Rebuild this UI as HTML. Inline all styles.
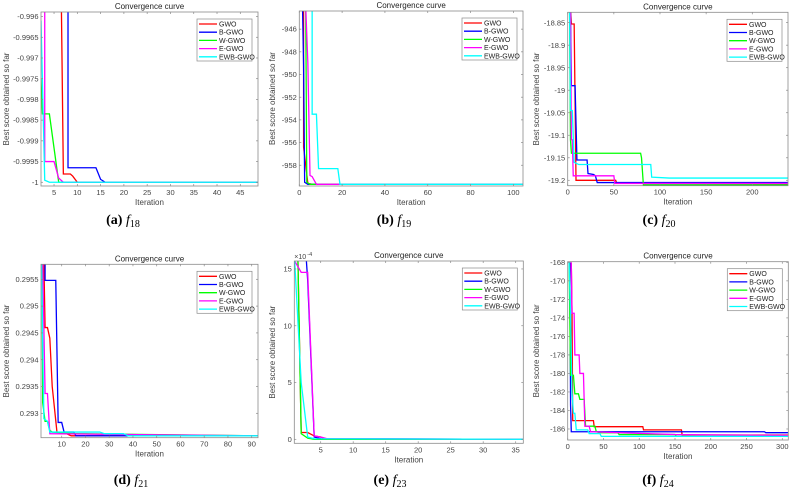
<!DOCTYPE html>
<html><head><meta charset="utf-8"><style>
html,body{margin:0;padding:0;background:#fff;}
svg{display:block;}
text{font-family:"Liberation Sans",Arial,sans-serif;}
.cap{font-family:"Liberation Serif","Times New Roman",serif;font-size:14px;fill:#000;}
</style></head><body>
<svg id="fig" width="796" height="497" viewBox="0 0 796 497" xmlns="http://www.w3.org/2000/svg"></svg>
<script>
// ---------- data ----------
const seriesNames = ["GWO","B-GWO","W-GWO","E-GWO","EWB-GWO"];
// panel a (f18)
const aGWO  = [[6.5,-0.995],[7,-0.9998],[8.5,-0.9998],[9,-0.99985],[10,-1],[49,-1]];
const aBGWO = [[8,-0.995],[8,-0.99965],[14,-0.99965],[15,-0.99993],[16,-1],[49,-1]];
const aWGWO = [[2.2,-0.9975],[2.5,-0.99835],[4,-0.99835],[6,-1],[49,-1]];
const aEGWO = [[3,-0.995],[3,-0.9995],[5,-0.9995],[6,-0.9999],[7,-1],[49,-1]];
const aEWB  = [[2.2,-0.9961],[3,-0.99995],[4,-1],[49,-1]];
const aXTicks = [5,10,15,20,25,30,35,40,45];
const aYTicks = [-0.996,-0.9965,-0.997,-0.9975,-0.998,-0.9985,-0.999,-0.9995,-1];
// panel b (f19)
const bGWO  = [[2,-944],[2,-956.4],[4,-959.6],[6,-959.68],[104.5,-959.68]];
const bBGWO = [[1.5,-944],[2,-949.2],[2.5,-959.5],[4,-959.68],[104.5,-959.68]];
const bWGWO = [[3,-944],[3.5,-959.5],[5,-959.68],[104.5,-959.68]];
const bEGWO = [[3,-944],[4,-949],[5,-958.9],[6,-959],[8,-959.68],[104.5,-959.68]];
const bEWB  = [[6,-944],[6,-953.5],[8,-953.5],[9,-958.3],[18,-958.3],[19,-959.68],[104.5,-959.68]];
const bXTicks = [0,20,40,60,80,100];
const bYTicks = [-946,-948,-950,-952,-954,-956,-958];
// panel c (f20)
const cGWO  = [[3,-18.82],[4,-18.853],[7,-18.853],[9,-19.2],[52,-19.2],[53,-19.206],[238.7,-19.208]];
const cBGWO = [[3,-18.82],[4,-18.99],[8,-18.99],[10,-19.155],[21,-19.155],[22,-19.185],[28,-19.187],[30,-19.19],[32,-19.205],[238.7,-19.205]];
const cWGWO = [[2,-18.82],[3,-19.11],[4,-19.14],[79,-19.14],[80,-19.15],[82,-19.21],[238.7,-19.21]];
const cEGWO = [[3,-18.82],[4,-19.11],[5,-19.11],[6,-19.19],[50,-19.19],[51,-19.207],[238.7,-19.207]];
const cEWB  = [[2,-18.82],[3,-19.045],[5,-19.045],[7,-19.16],[12,-19.165],[90,-19.165],[91,-19.193],[110,-19.195],[238.7,-19.195]];
const cXTicks = [0,50,100,150,200];
const cYTicks = [-18.85,-18.9,-18.95,-19,-19.05,-19.1,-19.15,-19.2];
// panel d (f21)
const dGWO  = [[2.5,0.2958],[3,0.2946],[4,0.2946],[5,0.2944],[6,0.2935],[8,0.29265],[12,0.29262],[14,0.29258],[92.65,0.29258]];
const dBGWO = [[3,0.2958],[3,0.29548],[7.5,0.29548],[8.5,0.29283],[10,0.29283],[11,0.29265],[15,0.29265],[16,0.29258],[92.65,0.29258]];
const dWGWO = [[1.7,0.2958],[2,0.2932],[3,0.29285],[4,0.29285],[5,0.29268],[6,0.29265],[15,0.29262],[92.65,0.29258]];
const dEGWO = [[2,0.2958],[3,0.29337],[4,0.29337],[5,0.29262],[92.65,0.29258]];
const dEWB  = [[1.5,0.2958],[2.5,0.2929],[4,0.29285],[5,0.29265],[26,0.29265],[28,0.29262],[36,0.29262],[38,0.29258],[92.65,0.29258]];
const dXTicks = [10,20,30,40,50,60,70,80,90];
const dYTicks = [0.2955,0.295,0.2945,0.294,0.2935,0.293];
// panel e (f23), values x1e-4
const eGWO  = [[1.5,15.7],[2,0.6],[3,0.6],[4,0.3],[5,0.2],[6,0],[36.17,0]];
const eBGWO = [[2.8,15.7],[3,14],[4,0.2],[5,0.05],[36.17,0]];
const eWGWO = [[1.5,15.7],[2,0.5],[3,0.1],[4,0],[36.17,0]];
const eEGWO = [[1,15.7],[1.5,15.2],[2,14.7],[3,14.7],[4,0.3],[5,0.2],[6,0.05],[36.17,0]];
const eEWB  = [[1,15.7],[2,5],[3,0.2],[4,0.05],[36.17,0]];
const eXTicks = [5,10,15,20,25,30,35];
const eYTicks = [0,5,10,15];
// panel f (f24)
const fGWO  = [[5,-168],[6,-173],[7,-185.1],[36,-185.1],[37,-185.75],[105,-185.75],[106,-186.1],[159,-186.1],[160,-186.65],[308.4,-186.65]];
const fBGWO = [[3,-168],[4,-183.4],[5,-186.3],[275,-186.3],[277,-186.4],[308.4,-186.4]];
const fWGWO = [[2,-168],[4,-180.2],[8,-180.2],[10,-182.2],[15,-182.2],[17,-182.8],[23,-182.8],[25,-185.7],[38,-185.7],[40,-186.3],[45,-186.4],[70,-186.4],[72,-186.6],[150,-186.6],[152,-186.8],[308.4,-186.8]];
const fEGWO = [[5,-168],[6,-173.5],[9,-173.5],[10,-178],[16,-178],[17,-180],[22,-180],[24,-185.7],[30,-185.7],[32,-186.3],[150,-186.6],[308.4,-186.7]];
const fEWB  = [[2,-168],[4,-173.5],[6,-182],[8,-184.3],[10,-184.3],[12,-186.1],[28,-186.1],[30,-186.5],[45,-186.5],[47,-186.8],[308.4,-186.8]];
const fXTicks = [0,50,100,150,200,250,300];
const fYTicks = [-168,-170,-172,-174,-176,-178,-180,-182,-184,-186];

// ---------- layout ----------
const colors = ["#ff0000","#0000ff","#00ff00","#ff00ff","#00ffff"];
const panels = [
 {id:"a",L:41,T:12,R:258,B:186,x0:2.2,x1:48.8,y0:-1.00009,y1:-0.99589,s:[aGWO,aBGWO,aWGWO,aEGWO,aEWB],xt:aXTicks,yt:aYTicks,yl:9,cap:"(a)",sub:"18",cx:123,cy:224},
 {id:"b",L:299.3,T:11,R:523,B:186,x0:0,x1:104.5,y0:-959.83,y1:-944.4,s:[bGWO,bBGWO,bWGWO,bEGWO,bEWB],xt:bXTicks,yt:bYTicks,yl:275,cap:"(b)",sub:"19",cx:394,cy:224},
 {id:"c",L:567.7,T:12.3,R:788,B:185.7,x0:0,x1:238.7,y0:-19.212,y1:-18.827,s:[cGWO,cBGWO,cWGWO,cEGWO,cEWB],xt:cXTicks,yt:cYTicks,yl:539,cap:"(c)",sub:"20",cx:659,cy:224},
 {id:"d",L:41,T:264.3,R:258,B:437.7,x0:1.28,x1:92.65,y0:0.292545,y1:0.29578,s:[dGWO,dBGWO,dWGWO,dEGWO,dEWB],xt:dXTicks,yt:dYTicks,yl:9,cap:"(d)",sub:"21",cx:131,cy:484},
 {id:"e",L:294.3,T:261,R:523.3,B:443.3,x0:0.94,x1:36.17,y0:-0.35,y1:15.7,s:[eGWO,eBGWO,eWGWO,eEGWO,eEWB],xt:eXTicks,yt:eYTicks,yl:275,cap:"(e)",sub:"23",cx:390,cy:484,exp:true},
 {id:"f",L:567.7,T:261.7,R:788.3,B:440,x0:0,x1:308.4,y0:-187.19,y1:-167.93,s:[fGWO,fBGWO,fWGWO,fEGWO,fEWB],xt:fXTicks,yt:fYTicks,yl:539,cap:"(f)",sub:"24",cx:658,cy:484}
];
const NS="http://www.w3.org/2000/svg";
const svg=document.getElementById("fig");
function mk(tag,attrs,parent){const e=document.createElementNS(NS,tag);for(const k in attrs)e.setAttribute(k,attrs[k]);(parent||svg).appendChild(e);return e;}
const defs=mk("defs",{});
panels.forEach(p=>{
  const g=mk("g",{});
  
  
  const sx=v=>p.L+(v-p.x0)/(p.x1-p.x0)*(p.R-p.L);
  const sy=v=>p.B-(v-p.y0)/(p.y1-p.y0)*(p.B-p.T);
  const cp=mk("clipPath",{id:"clip"+p.id},defs);
  mk("rect",{x:p.L,y:p.T,width:p.R-p.L,height:p.B-p.T},cp);
  mk("rect",{x:p.L,y:p.T,width:p.R-p.L,height:p.B-p.T,fill:"#fff"},g);
  // series
  const sg=mk("g",{"clip-path":"url(#clip"+p.id+")"},g);
  p.s.forEach((arr,i)=>{
    const pl=mk("polyline",{points:arr.map(q=>sx(q[0]).toFixed(2)+","+sy(q[1]).toFixed(2)).join(" "),fill:"none",stroke:colors[i],"stroke-width":"1.3","stroke-linejoin":"miter"},sg);
    
    
  });
  // axes box
  const bx=mk("rect",{x:p.L,y:p.T,width:p.R-p.L,height:p.B-p.T,fill:"none",stroke:"#8a8a8a","stroke-width":"0.8"},g);
  
  
  // ticks
  p.xt.forEach(t=>{
    const x=sx(t);
    mk("line",{x1:x,x2:x,y1:p.B,y2:p.B-2,stroke:"#8a8a8a","stroke-width":"0.7"},g);
    mk("line",{x1:x,x2:x,y1:p.T,y2:p.T+2,stroke:"#8a8a8a","stroke-width":"0.7"},g);
    const tx=mk("text",{x:x,y:p.B+9,"text-anchor":"middle","font-size":"7.5",fill:"#444"},g);
    tx.textContent=String(t);
    
    
  });
  p.yt.forEach(t=>{
    const y=sy(t);
    mk("line",{x1:p.L,x2:p.L+2,y1:y,y2:y,stroke:"#8a8a8a","stroke-width":"0.7"},g);
    mk("line",{x1:p.R,x2:p.R-2,y1:y,y2:y,stroke:"#8a8a8a","stroke-width":"0.7"},g);
    const ty=mk("text",{x:p.L-2.5,y:y+2.6,"text-anchor":"end","font-size":"7.5",fill:"#444"},g);
    ty.textContent=String(t);
    
    
  });
  if(p.exp){
    const ex=mk("text",{x:p.L,y:p.T-2,"font-size":"7",fill:"#444"},g);
    ex.textContent="\u00d710";
    
    
    const ee=mk("text",{x:p.L+13,y:p.T-5,"font-size":"5.5",fill:"#444"},g);
    ee.textContent="-4";
  }
  const cx=(p.L+p.R)/2, cy=(p.T+p.B)/2;
  const ti=mk("text",{x:cx,y:p.T-3,"text-anchor":"middle","font-size":"8",fill:"#222"},g);
  ti.textContent="Convergence curve";
  
  
  const xl=mk("text",{x:cx,y:p.B+19,"text-anchor":"middle","font-size":"8",fill:"#444"},g);
  xl.textContent="Iteration";
  
  
  const yl=mk("text",{x:p.yl,y:cy,"text-anchor":"middle","font-size":"8",fill:"#444",transform:"rotate(-90 "+p.yl+" "+cy+")"},g);
  yl.textContent="Best score obtained so far";
  
  
  // legend
  const lx=p.R-61, ly=p.T+7;
  const lg=mk("g",{},g);
  
  
  mk("rect",{x:lx,y:ly,width:55,height:42,fill:"#fff",stroke:"#8a8a8a","stroke-width":"0.7"},lg);
  seriesNames.forEach((n,i)=>{
    const yy=ly+5+i*8.2;
    mk("line",{x1:lx+2,x2:lx+20,y1:yy,y2:yy,stroke:colors[i],"stroke-width":"1.3"},lg);
    const lt=mk("text",{x:lx+22,y:yy+2.5,"font-size":"7",fill:"#222"},lg);
    lt.textContent=n;
    
    
  });
  // caption
  const cap=mk("text",{x:p.cx,y:p.cy,"text-anchor":"middle",class:"cap"},g);
  
  
  const b=mk("tspan",{"font-weight":"bold"},cap); b.textContent=p.cap+" ";
  const f=mk("tspan",{"font-style":"italic"},cap); f.textContent="f";
  const s=mk("tspan",{"font-size":"10",dy:"3"},cap); s.textContent=p.sub;
});
</script>
</body></html>
